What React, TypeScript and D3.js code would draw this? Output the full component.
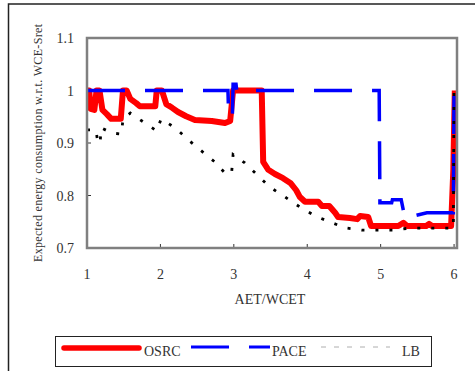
import { useEffect, useRef } from "react";
import * as d3 from "d3";

// values
const xTicks = [1, 2, 3, 4, 5, 6];
const yTicks = [0.7, 0.8, 0.9, 1, 1.1];

const osrcX = [1.0, 1.03, 1.05, 1.1, 1.13, 1.17, 1.21, 1.27, 1.33, 1.46, 1.49, 1.54, 1.59, 1.67, 1.72, 1.93, 1.95, 2.02, 2.08, 2.16, 2.24, 2.35, 2.47, 2.7, 2.88, 2.95, 2.99, 3.38, 3.4, 3.47, 3.56, 3.67, 3.77, 3.85, 3.9, 3.97, 4.15, 4.2, 4.3, 4.38, 4.42, 4.58, 4.68, 4.72, 4.83, 4.87, 5.24, 5.31, 5.36, 5.62, 5.66, 5.7, 5.96, 5.99, 6.01];
const osrcY = [1.0, 1.0, 0.965, 0.963, 1.0, 1.0, 0.963, 0.955, 0.946, 0.946, 1.0, 1.0, 0.984, 0.976, 0.97, 0.97, 1.0, 1.0, 0.974, 0.967, 0.959, 0.951, 0.944, 0.942, 0.938, 0.942, 1.0, 1.0, 0.864, 0.849, 0.841, 0.833, 0.824, 0.81, 0.797, 0.788, 0.788, 0.78, 0.78, 0.767, 0.759, 0.757, 0.755, 0.761, 0.759, 0.742, 0.742, 0.748, 0.742, 0.742, 0.746, 0.742, 0.742, 0.85, 1.0];

const paceX = [1.0, 2.92, 2.93, 2.98, 2.99, 3.03, 3.04, 4.98, 4.99, 5.15, 5.16, 5.28, 5.33, 5.63, 5.99, 6.0];
const paceY = [1.0, 1.0, 0.95, 0.95, 1.012, 1.012, 1.0, 1.0, 0.786, 0.786, 0.792, 0.792, 0.757, 0.767, 0.767, 1.012];

const lbX = [1.0, 1.12, 1.15, 1.18, 1.19, 1.34, 1.47, 1.49, 1.59, 1.79, 1.95, 2.01, 2.2, 2.38, 2.54, 2.74, 2.89, 2.97, 2.99, 3.15, 3.32, 3.49, 3.7, 3.9, 4.11, 4.3, 4.53, 4.75, 4.95, 5.17, 5.4, 5.6, 5.81, 5.99, 6.0];
const lbY = [0.925, 0.925, 0.9, 0.9, 0.929, 0.919, 0.917, 0.946, 0.957, 0.938, 0.923, 0.946, 0.929, 0.906, 0.887, 0.864, 0.841, 0.843, 0.878, 0.862, 0.839, 0.816, 0.797, 0.778, 0.761, 0.75, 0.738, 0.734, 0.734, 0.734, 0.738, 0.738, 0.738, 0.738, 1.005];

const legendNames = ["OSRC", "PACE", "LB"];

const W = 475;
const H = 371;
const serif = "'Liberation Serif', 'Times New Roman', serif";

export default function App() {
  const ref = useRef<SVGSVGElement | null>(null);

  useEffect(() => {
    const svg = d3.select(ref.current);
    svg.selectAll("*").remove();

    const x = d3.scaleLinear().domain([1, 6.04]).range([87, 457]);
    const y = d3.scaleLinear().domain([0.7, 1.1]).range([248, 38]);

    // outer frame of the figure
    svg.append("rect")
      .attr("x", 8.5).attr("y", 4).attr("width", 480).attr("height", 380)
      .attr("fill", "none").attr("stroke", "#222").attr("stroke-width", 1.5);

    // ticks, inward
    svg.append("g").selectAll("line").data(yTicks).join("line")
      .attr("x1", 87).attr("x2", 91)
      .attr("y1", (d) => y(d)).attr("y2", (d) => y(d))
      .attr("stroke", "#333").attr("stroke-width", 1);
    svg.append("g").selectAll("line").data(xTicks).join("line")
      .attr("x1", (d) => x(d)).attr("x2", (d) => x(d))
      .attr("y1", 248).attr("y2", 244)
      .attr("stroke", "#333").attr("stroke-width", 1);

    svg.append("g").selectAll("text").data(yTicks).join("text")
      .attr("x", 74).attr("y", (d) => y(d) + 5)
      .attr("text-anchor", "end")
      .attr("font-family", serif).attr("font-size", 14).attr("fill", "#333")
      .text((d) => d3.format("")(d));
    svg.append("g").selectAll("text").data(xTicks).join("text")
      .attr("x", (d) => x(d)).attr("y", 279)
      .attr("text-anchor", "middle")
      .attr("font-family", serif).attr("font-size", 14).attr("fill", "#333")
      .text((d) => d);

    svg.append("text")
      .attr("x", 270).attr("y", 304)
      .attr("text-anchor", "middle")
      .attr("font-family", serif).attr("font-size", 14).attr("fill", "#333")
      .text("AET/WCET");

    svg.append("text")
      .attr("transform", "translate(42,143) rotate(-90)")
      .attr("text-anchor", "middle")
      .attr("font-family", serif).attr("font-size", 12).attr("fill", "#333")
      .attr("textLength", 238).attr("lengthAdjust", "spacing")
      .text("Expected energy consumption  w.r.t. WCE-Sret");

    const line = d3.line<[number, number]>()
      .x((d) => x(d[0]))
      .y((d) => y(d[1]));

    const plot = svg.append("g");

    plot.append("path")
      .attr("d", line(d3.zip(osrcX, osrcY) as [number, number][]))
      .attr("fill", "none").attr("stroke", "#ff0000")
      .attr("stroke-width", 6).attr("stroke-linejoin", "round");

    plot.append("path")
      .attr("d", line(d3.zip(paceX, paceY) as [number, number][]))
      .attr("fill", "none").attr("stroke", "#0000ff")
      .attr("stroke-width", 3.5).attr("stroke-dasharray", "38,20");

    plot.append("path")
      .attr("d", line(d3.zip(lbX, lbY) as [number, number][]))
      .attr("fill", "none").attr("stroke", "#000")
      .attr("stroke-width", 2.8).attr("stroke-dasharray", "3,11");

    // plot area box
    svg.append("rect")
      .attr("x", 87).attr("y", 38).attr("width", 370).attr("height", 210)
      .attr("fill", "none").attr("stroke", "#808080").attr("stroke-width", 2.5);

    // legend
    const lg = svg.append("g");
    lg.append("rect")
      .attr("x", 55.5).attr("y", 336.5).attr("width", 376).attr("height", 30)
      .attr("fill", "#fff").attr("stroke", "#222").attr("stroke-width", 1);
    lg.append("line")
      .attr("x1", 64).attr("x2", 139).attr("y1", 348).attr("y2", 348)
      .attr("stroke", "#ff0000").attr("stroke-width", 5.5).attr("stroke-linecap", "round");
    lg.append("line")
      .attr("x1", 191).attr("x2", 270).attr("y1", 347).attr("y2", 347)
      .attr("stroke", "#0000ff").attr("stroke-width", 3).attr("stroke-dasharray", "38,20");
    lg.append("line")
      .attr("x1", 321).attr("x2", 390).attr("y1", 347).attr("y2", 347)
      .attr("stroke", "#999").attr("stroke-width", 0.8).attr("stroke-dasharray", "5,8");
    const labelX = [144, 272, 402];
    lg.selectAll("text.name").data(legendNames).join("text")
      .attr("class", "name")
      .attr("x", (_d, i) => labelX[i]).attr("y", 356)
      .attr("font-family", serif).attr("font-size", 14).attr("fill", "#333")
      .text((d) => d);
  }, []);

  return (
    <svg
      ref={ref}
      width={W}
      height={H}
      style={{ position: "absolute", left: 0, top: 0, background: "#fff" }}
    />
  );
}
